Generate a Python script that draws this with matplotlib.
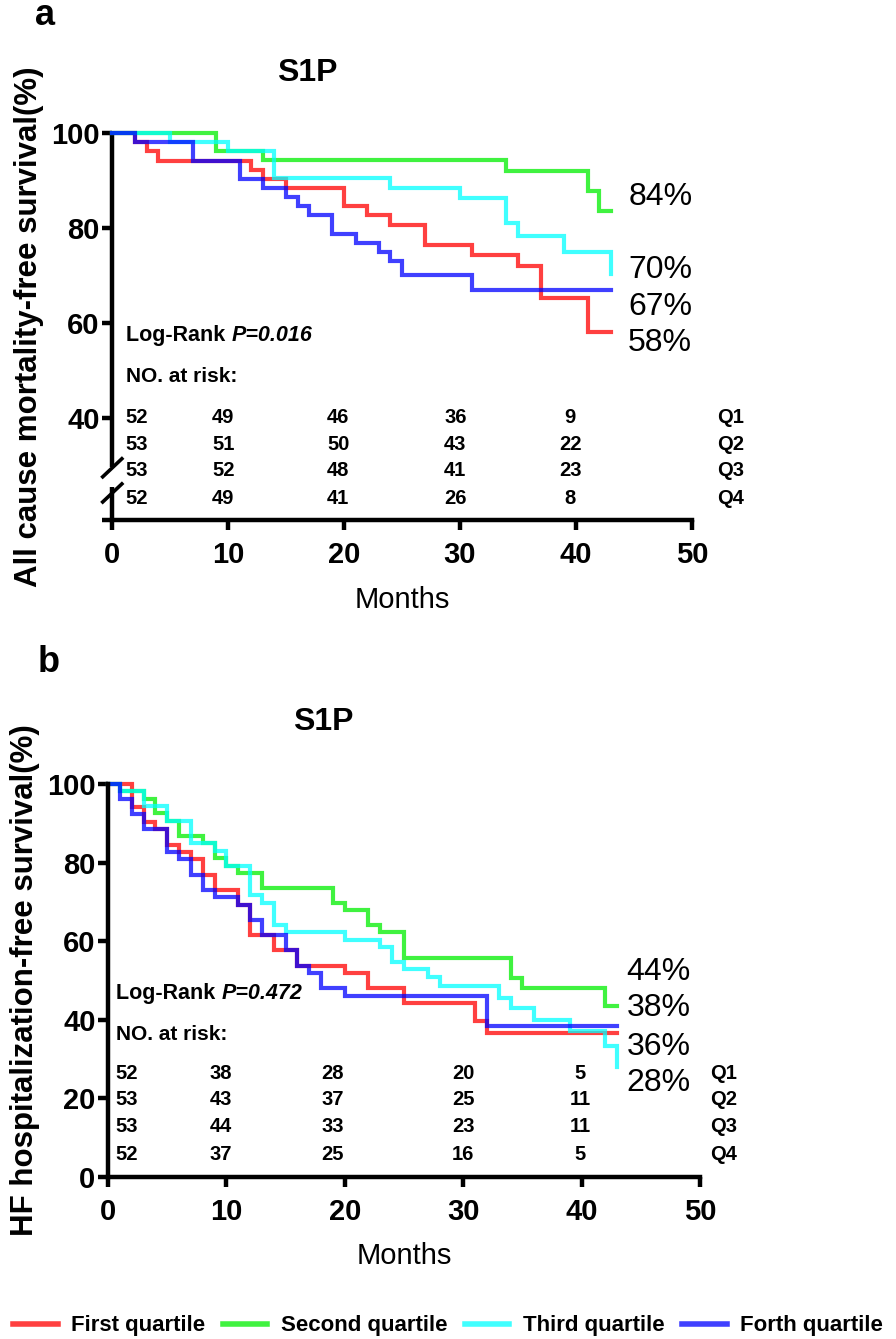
import matplotlib
matplotlib.use("Agg")
import matplotlib.pyplot as plt
from matplotlib.lines import Line2D

plt.rcParams["font.family"] = ["Liberation Sans", "DejaVu Sans"]

# ---------------------------------------------------------------
# Data (months, survival %)
# ---------------------------------------------------------------
GROUPS = ["First quartile", "Second quartile", "Third quartile", "Forth quartile"]
ROW_LABELS = ["Q1", "Q2", "Q3", "Q4"]
COLORS = ["#FF0000", "#00EE00", "#00FFFF", "#0000FF"]

# panel a: all cause mortality
red_a_t = [0, 2, 3, 4, 12, 13, 15, 20, 22, 24, 27, 31, 35, 37, 41, 43]
red_a_s = [100, 98.1, 96.2, 94.2, 92.3, 90.4, 88.5, 84.6, 82.7, 80.7, 76.5, 74.3, 71.9, 65.2, 58.0, 58.0]
green_a_t = [0, 9, 13, 34, 41, 42, 43]
green_a_s = [100, 96.2, 94.3, 92.0, 87.8, 83.6, 83.6]
cyan_a_t = [0, 5, 10, 14, 24, 30, 34, 35, 39, 43]
cyan_a_s = [100, 98.1, 96.2, 90.6, 88.5, 86.4, 81.1, 78.4, 75.0, 70.3]
blue_a_t = [0, 2, 7, 11, 13, 15, 16, 17, 19, 21, 23, 24, 25, 31, 43]
blue_a_s = [100, 98.1, 94.2, 90.4, 88.5, 86.5, 84.6, 82.7, 78.8, 76.9, 75.0, 73.1, 70.2, 66.9, 66.9]

# panel b: HF hospitalization
red_b_t = [0, 2, 3, 4, 5, 6, 7, 8, 9, 11, 12, 14, 16, 20, 22, 25, 31, 32, 43]
red_b_s = [100, 94.2, 90.4, 88.5, 84.6, 82.7, 80.8, 76.9, 73.1, 69.2, 61.5, 57.7, 53.8, 51.9, 48.0, 44.2, 39.6, 36.6, 36.6]
green_b_t = [0, 1, 3, 4, 5, 6, 8, 9, 10, 11, 13, 19, 20, 22, 23, 25, 34, 35, 42, 43]
green_b_s = [100, 98.1, 96.2, 92.5, 90.6, 86.8, 84.9, 81.1, 79.2, 77.4, 73.6, 69.8, 67.9, 64.1, 62.3, 55.8, 50.6, 48.0, 43.6, 43.6]
cyan_b_t = [0, 1, 3, 5, 7, 9, 10, 12, 13, 14, 15, 20, 23, 24, 25, 27, 28, 33, 34, 36, 39, 42, 43]
cyan_b_s = [100, 98.1, 94.3, 90.6, 84.9, 83.0, 79.2, 71.7, 69.8, 64.2, 62.3, 60.4, 58.5, 54.7, 52.8, 50.9, 48.5, 45.5, 42.9, 40.0, 37.2, 33.3, 28.1]
blue_b_t = [0, 1, 2, 3, 5, 6, 7, 8, 9, 11, 12, 13, 15, 16, 17, 18, 20, 32, 43]
blue_b_s = [100, 96.2, 92.3, 88.5, 82.7, 80.8, 76.9, 73.1, 71.2, 69.2, 65.4, 61.5, 57.7, 53.8, 51.9, 48.0, 46.1, 38.5, 38.5]

# end-of-follow-up labels
end_a = ["84%", "70%", "67%", "58%"]
end_b = ["44%", "38%", "36%", "28%"]

risk_a = [[52, 49, 46, 36, 9], [53, 51, 50, 43, 22], [53, 52, 48, 41, 23], [52, 49, 41, 26, 8]]
risk_b = [[52, 38, 28, 20, 5], [53, 43, 37, 25, 11], [53, 44, 33, 23, 11], [52, 37, 25, 16, 5]]
p_a = "P=0.016"
p_b = "P=0.472"

# ---------------------------------------------------------------
# Layout (figure pixels -> fractions)
# ---------------------------------------------------------------
W, H = 896, 1339
fig = plt.figure(figsize=(W / 100, H / 100), dpi=100)

ax_a = fig.add_axes([112 / W, 1 - 520 / H, 580 / W, 387 / H])
ax_b = fig.add_axes([108 / W, 1 - 1177 / H, 592 / W, 393 / H])

LW = 3.0
SPINE_W = 3.2


def style_axes(ax, yticks, ylim, ylabel):
    ax.set_xlim(0, 50)
    ax.set_ylim(*ylim)
    ax.set_xticks([0, 10, 20, 30, 40, 50])
    ax.set_yticks(yticks)
    for s in ["top", "right"]:
        ax.spines[s].set_visible(False)
    for s in ["left", "bottom"]:
        ax.spines[s].set_linewidth(SPINE_W)
    ax.tick_params(direction="out", length=7, width=SPINE_W, labelsize=21)
    ax.tick_params(axis="x", pad=8)
    ax.tick_params(axis="y", pad=2)
    plt.setp(ax.get_xticklabels(), fontweight="bold")
    plt.setp(ax.get_yticklabels(), fontweight="bold")
    ax.set_xlabel("Months", fontsize=21, labelpad=12)
    ax.set_ylabel(ylabel, fontsize=22.5, fontweight="bold", labelpad=5)


def draw_curves(ax, series):
    for (t, s), c in zip(series, COLORS):
        ax.step(t, s, where="post", color=c, lw=LW, alpha=0.75, clip_on=False,
                solid_joinstyle="miter")


def draw_table(ax, risk, cols, rows_y, q_x, p_text, p_y, risk_y, fs):
    t1 = ax.text(cols[0] - 0.9, p_y, "Log-Rank ", fontsize=15.5, fontweight="bold",
                 ha="left", va="center")
    ax.annotate(p_text, xy=(1, 0.5), xycoords=t1, fontsize=15.5, fontweight="bold",
                style="italic", ha="left", va="center")
    ax.text(cols[0] - 0.9, risk_y, "NO. at risk:", fontsize=15, fontweight="bold",
            ha="left", va="center")
    for row, y, q in zip(risk, rows_y, ROW_LABELS):
        for v, x in zip(row, cols):
            ax.text(x, y, str(v), fontsize=fs, fontweight="bold", ha="center", va="center")
        ax.text(q_x, y, q, fontsize=fs, fontweight="bold", ha="center", va="center",
                clip_on=False)


# ---------------- panel a ----------------
style_axes(ax_a, [40, 60, 80, 100], (18.5, 100), "All cause mortality-free survival(%)")
ax_a.spines["left"].set_visible(False)
# broken y-axis drawn by hand
ax_a.plot([0, 0], [100, 29.7], color="black", lw=SPINE_W, clip_on=False,
          solid_capstyle="butt")
ax_a.plot([0, 0], [25.5, 18.5], color="black", lw=SPINE_W, clip_on=False,
          solid_capstyle="butt")
ax_a.plot([-0.85, 0], [18.5, 18.5], color="black", lw=SPINE_W, clip_on=False,
          solid_capstyle="butt")
for yc in (29.5, 24.2):
    ax_a.plot([-0.8, 0.85], [yc - 1.9, yc + 1.9], color="black", lw=2.6, clip_on=False)

draw_curves(ax_a, [(red_a_t, red_a_s), (green_a_t, green_a_s),
                   (cyan_a_t, cyan_a_s), (blue_a_t, blue_a_s)])
for txt, y in zip(end_a, [86.5, 71.2, 63.4, 55.8]):
    ax_a.text(44.5, y, txt, fontsize=23, ha="left", va="center", clip_on=False)
draw_table(ax_a, risk_a, [2.1, 9.6, 19.5, 29.6, 39.5], [40.1, 34.5, 28.9, 23.1],
           53.3, p_a, 57.3, 48.8, 14.5)

# ---------------- panel b ----------------
style_axes(ax_b, [0, 20, 40, 60, 80, 100], (0, 100), "HF hospitalization-free survival(%)")
draw_curves(ax_b, [(red_b_t, red_b_s), (green_b_t, green_b_s),
                   (cyan_b_t, cyan_b_s), (blue_b_t, blue_b_s)])
for txt, y in zip(end_b, [52.2, 42.9, 33.2, 23.8]):
    ax_b.text(43.8, y, txt, fontsize=23, ha="left", va="center", clip_on=False)
draw_table(ax_b, risk_b, [1.6, 9.5, 19.0, 30.0, 39.9], [26.4, 19.6, 12.8, 5.6],
           52.0, p_b, 46.7, 36.3, 14.5)

# ---------------- titles / panel letters ----------------
fig.text(277 / W, 1 - 73 / H, "S1P", fontsize=23, fontweight="bold", ha="left", va="center")
fig.text(293 / W, 1 - 722 / H, "S1P", fontsize=23, fontweight="bold", ha="left", va="center")
fig.text(35 / W, 1 - 25 / H, "a", fontsize=26, fontweight="bold", ha="left", va="baseline")
fig.text(38 / W, 1 - 672 / H, "b", fontsize=26, fontweight="bold", ha="left", va="baseline")

# ---------------- legend ----------------
handles = [Line2D([], [], color=c, lw=LW + 1, alpha=0.75) for c in COLORS]
fig.legend(handles, GROUPS, loc="center", bbox_to_anchor=(0.5, 1 - 1326 / H), ncol=4,
           frameon=False, prop={"weight": "bold", "size": 16},
           handlelength=2.0, handletextpad=0.6, columnspacing=0.8, borderaxespad=0,
           borderpad=0)

fig.savefig("out.png", dpi=100)
